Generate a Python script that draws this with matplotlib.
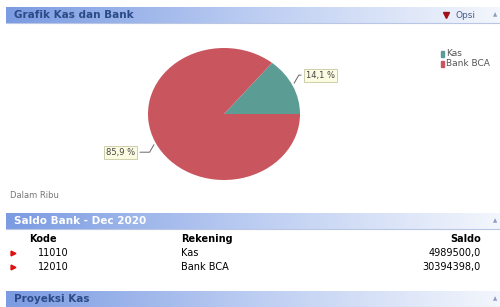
import matplotlib.pyplot as plt
import numpy as np
from matplotlib.colors import LinearSegmentedColormap

# data
akun = ["Kas", "Bank BCA"]
kode = ["11010", "12010"]
saldo = [4989500.0, 30394398.0]
warna = ["#5b9c94", "#c9555f"]

fig = plt.figure(figsize=(5, 3.07), dpi=100)
ax = fig.add_axes([0, 0, 1, 1])
ax.set_xlim(0, 500)
ax.set_ylim(307, 0)
ax.axis("off")

grad = np.linspace(0, 1, 256).reshape(1, -1)
cmap = LinearSegmentedColormap.from_list("hdr", ["#7b9be2", "#bccdf2", "#f3f6fc"])


def header(y0, y1, text, color):
    ax.imshow(grad, cmap=cmap, extent=(6, 500, y1, y0), aspect="auto", zorder=1)
    ax.plot([6, 500], [y1, y1], color="#b9c6e4", lw=0.8, zorder=2)
    ax.text(14, (y0 + y1) / 2 + 0.5, text, color=color, fontsize=7.5, fontweight="bold",
            va="center", ha="left", zorder=3)
    ax.text(495, (y0 + y1) / 2, "▲", color="#8a9cc0", fontsize=4, va="center", ha="center", zorder=3)


header(7, 23, "Grafik Kas dan Bank", "#2c4a86")
ax.plot(446, 15, marker="v", color="#a01018", ms=4.5, zorder=3)
ax.text(455, 15.5, "Opsi", color="#4a5e8a", fontsize=6.5, va="center", ha="left", zorder=3)

header(213, 229, "Saldo Bank - Dec 2020", "white")
header(291, 307, "Proyeksi Kas", "#2c4a86")

ax.text(10, 195, "Dalam Ribu", color="#777777", fontsize=6, va="center")

# legend
for i, (name, c) in enumerate(zip(akun, warna)):
    y = 54 + i * 9.5
    ax.add_patch(plt.Rectangle((441, y - 3), 2.5, 6, color=c))
    ax.text(446, y, name, fontsize=6.5, color="#555555", va="center")

# table
ax.text(29, 239, "Kode", fontsize=7, fontweight="bold", va="center")
ax.text(181, 239, "Rekening", fontsize=7, fontweight="bold", va="center")
ax.text(481, 239, "Saldo", fontsize=7, fontweight="bold", va="center", ha="right")
for i in range(len(akun)):
    y = 253 + i * 14
    ax.plot(13, y, marker=">", color="#e01010", ms=3.5)
    ax.text(38, y, kode[i], fontsize=7, va="center")
    ax.text(181, y, akun[i], fontsize=7, va="center")
    ax.text(481, y, f"{saldo[i]:.1f}".replace(".", ","), fontsize=7, va="center", ha="right")

# pie
cx, cy, rx, ry = 224, 114, 76, 66
pax = fig.add_axes([(cx - rx) / 500, 1 - (cy + ry) / 307, 2 * rx / 500, 2 * ry / 307])
pax.pie(saldo, colors=warna, startangle=0, counterclock=True, radius=1,
        wedgeprops=dict(linewidth=0))
pax.set_aspect("auto")
pax.set_xlim(-1, 1)
pax.set_ylim(-1, 1)
pax.axis("off")

total = sum(saldo)
start = 0
offsets = [(0.18, 0.16), (-0.27, -0.15)]
for i, v in enumerate(saldo):
    frac = v / total
    mid = np.deg2rad(start + frac * 180)
    start += frac * 360
    px, py = np.cos(mid), np.sin(mid)
    dx, dy = offsets[i]
    lab = f"{frac * 100:.1f} %".replace(".", ",")
    ha = "left" if px > 0 else "right"
    pax.annotate(lab, xy=(px, py), xytext=(px + dx, py + dy), ha=ha, va="center",
                 fontsize=6, color="#444444", annotation_clip=False,
                 bbox=dict(boxstyle="square,pad=0.25", fc="#fbfbe2", ec="#c8c8a0", lw=0.6),
                 arrowprops=dict(arrowstyle="-", color="#666666", lw=0.7,
                                 connectionstyle="angle,angleA=0,angleB=60,rad=0"))

fig.savefig("out.png", dpi=100)
